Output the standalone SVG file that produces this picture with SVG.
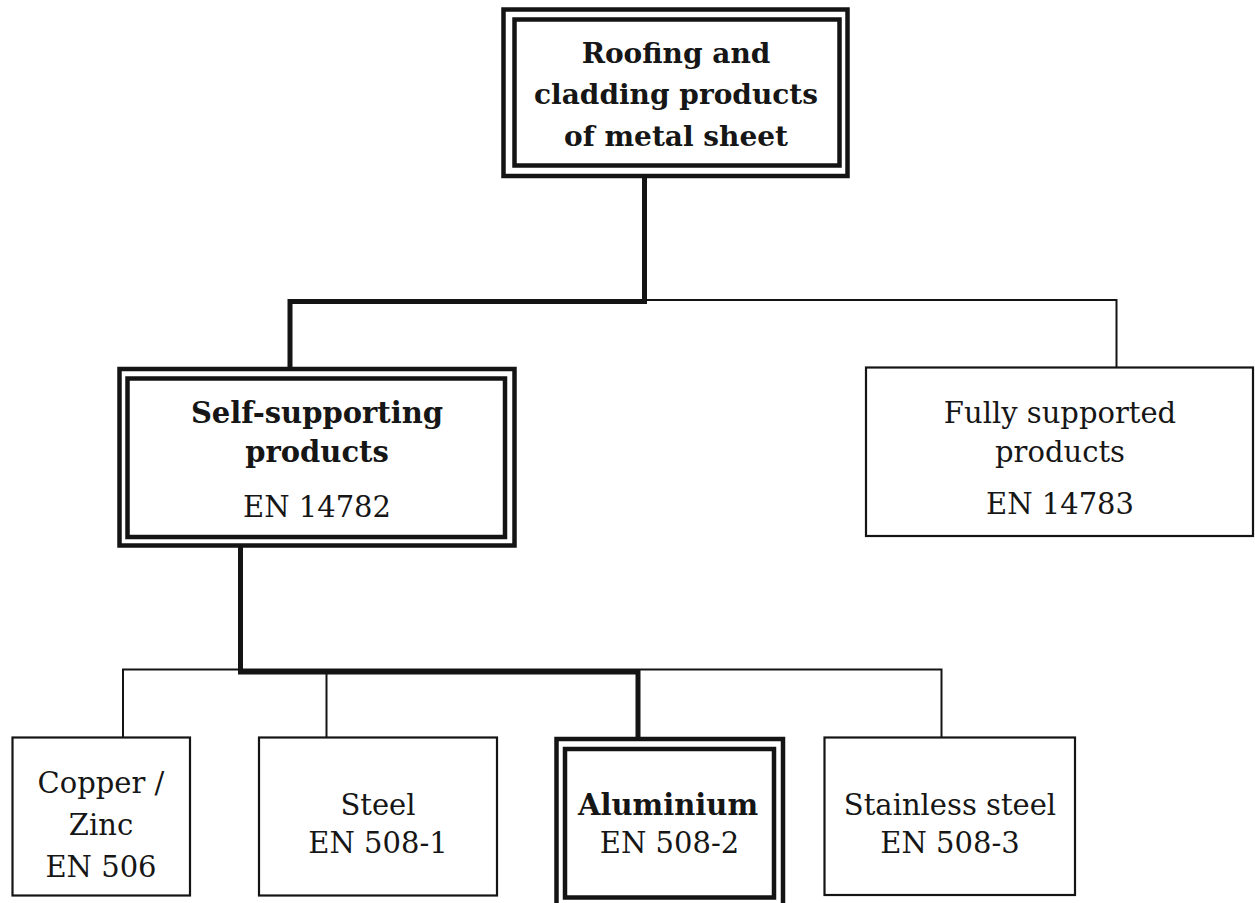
<svg xmlns="http://www.w3.org/2000/svg" width="1255" height="903" viewBox="0 0 1255 903">
<style>
.bg{fill:#ffffff}
.box{fill:#ffffff;stroke:#141414;stroke-width:2.2}
.dbl{fill:#ffffff;stroke:#141414;stroke-width:4.5}
.dbli{fill:none;stroke:#141414;stroke-width:4.5}
.thick{fill:none;stroke:#141414;stroke-width:5;stroke-linejoin:miter;stroke-linecap:square}
.thin{fill:none;stroke:#141414;stroke-width:2}
.b{font-family:"DejaVu Serif","Liberation Serif",serif;font-weight:bold;font-size:28px;fill:#161616;text-anchor:middle}
.r{font-family:"DejaVu Serif","Liberation Serif",serif;font-size:29px;fill:#161616;text-anchor:middle}
.rb{font-family:"DejaVu Serif","Liberation Serif",serif;font-weight:bold;font-size:29px;fill:#161616;text-anchor:middle}
</style>
<rect class="bg" x="0" y="0" width="1255" height="903"/>
<g id="connectors">
<polyline class="thin" points="644.5,300 1116.5,300 1116.5,367"/>
<polyline class="thin" points="123,737 123,669.5 941.5,669.5 941.5,737"/>
<line class="thin" x1="326.5" y1="669.5" x2="326.5" y2="737"/>
<polyline class="thick" points="644.5,178 644.5,301.5 290,301.5 290,367"/>
<polyline class="thick" points="240.5,547 240.5,672 638,672 638,737"/>
</g>
<g id="node-root">
<rect class="dbl" x="503.5" y="9.5" width="344" height="166.5"/>
<rect class="dbli" x="514.5" y="19.5" width="325" height="146"/>
<text class="b" x="676" y="63">Roofing and</text>
<text class="b" x="676" y="104">cladding products</text>
<text class="b" x="676" y="146">of metal sheet</text>
</g>
<g id="node-self">
<rect class="dbl" x="119.5" y="369" width="395" height="176.5"/>
<rect class="dbli" x="127.5" y="378.5" width="377.5" height="158.5"/>
<text class="rb" x="317" y="423">Self-supporting</text>
<text class="rb" x="317" y="462">products</text>
<text class="r" x="317" y="517">EN 14782</text>
</g>
<g id="node-fully">
<rect class="box" x="866" y="367.5" width="387" height="168.5"/>
<text class="r" x="1060" y="423">Fully supported</text>
<text class="r" x="1060" y="462">products</text>
<text class="r" x="1060" y="514">EN 14783</text>
</g>
<g id="node-copper">
<rect class="box" x="12.5" y="737.5" width="177.5" height="158"/>
<text class="r" x="101" y="793">Copper /</text>
<text class="r" x="101" y="835">Zinc</text>
<text class="r" x="101" y="877">EN 506</text>
</g>
<g id="node-steel">
<rect class="box" x="259" y="737.5" width="238" height="158"/>
<text class="r" x="378" y="815">Steel</text>
<text class="r" x="378" y="853">EN 508-1</text>
</g>
<g id="node-aluminium">
<rect class="dbl" x="556.5" y="739" width="226.5" height="180"/>
<rect class="dbli" x="565" y="749" width="209" height="148.5"/>
<text class="rb" x="668" y="815">Aluminium</text>
<text class="r" x="669.5" y="853">EN 508-2</text>
</g>
<g id="node-stainless">
<rect class="box" x="824.5" y="737.5" width="250.5" height="157.5"/>
<text class="r" x="950" y="815">Stainless steel</text>
<text class="r" x="950" y="853">EN 508-3</text>
</g>
</svg>
